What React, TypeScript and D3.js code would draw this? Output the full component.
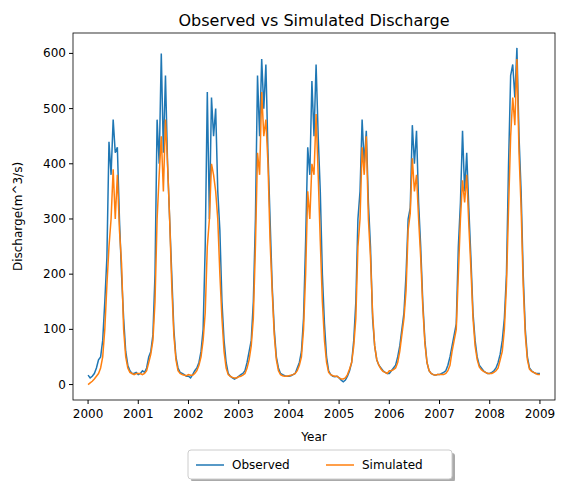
import * as d3 from "d3";

const years = [2000, 2001, 2002, 2003, 2004, 2005, 2006, 2007, 2008];
// half-month values per year
const observed: number[][] = [
  [17,12,15,20,30,45,50,80,150,230,440,380,480,420,430,300,200,120,60,35,25,20,20,22],
  [18,20,25,22,30,50,60,90,200,480,400,600,420,560,400,300,200,100,50,30,22,20,18,15],
  [15,12,18,25,30,40,60,100,250,530,300,520,450,500,350,280,150,80,40,20,15,12,10,12],
  [15,18,20,25,40,60,80,150,300,560,450,590,500,580,420,300,180,100,50,30,20,18,16,15],
  [15,16,18,20,30,40,60,120,260,430,380,550,450,580,450,350,200,110,50,25,18,15,14,15],
  [12,8,5,8,15,25,40,80,150,300,350,480,400,460,330,250,120,70,45,35,30,25,22,20],
  [20,25,30,35,50,70,100,130,200,300,320,470,400,460,330,250,150,80,40,25,20,18,17,18],
  [18,20,22,25,35,50,70,90,110,250,330,460,350,420,320,230,130,80,50,35,30,25,22,20],
  [20,22,25,30,40,55,80,120,200,400,560,580,520,610,450,350,200,100,50,30,25,22,20,20],
];
const simulated: number[][] = [
  [0,3,6,10,15,20,30,50,100,180,250,300,390,300,380,280,220,100,50,30,22,20,18,20],
  [20,20,18,20,25,40,55,80,150,300,380,450,350,480,400,300,180,90,45,25,20,18,17,16],
  [18,17,17,20,25,35,50,80,130,250,300,400,380,350,300,200,120,60,30,18,15,13,12,12],
  [14,15,17,20,30,45,70,120,250,420,380,530,450,480,400,260,170,90,45,25,18,16,15,15],
  [16,17,18,20,25,35,50,100,200,350,300,400,380,490,380,260,150,80,40,22,18,16,15,15],
  [12,10,10,12,18,28,40,70,120,250,300,430,380,450,300,230,130,70,45,35,28,24,22,20],
  [25,25,27,30,40,60,90,120,170,280,310,410,350,380,300,230,140,75,40,25,20,18,17,18],
  [18,18,18,20,25,35,60,80,100,200,300,370,330,380,290,210,120,70,45,32,27,24,22,20],
  [20,20,22,25,30,45,60,100,180,320,450,520,470,590,420,320,180,90,45,28,24,22,20,18],
];
const yTicks = [0, 100, 200, 300, 400, 500, 600];
const xTicks = [2000, 2001, 2002, 2003, 2004, 2005, 2006, 2007, 2008, 2009];

const toPoints = (series: number[][], last: number) => {
  const pts: [number, number][] = [];
  series.forEach((vals, yi) => vals.forEach((v, i) => pts.push([years[yi] + i / 24, v])));
  pts.push([2009, last]);
  return pts;
};

export default function App() {
  const left = 73, right = 555, top = 33, bottom = 400;
  const x = d3.scaleLinear().domain([1999.7, 2009.3]).range([left, right]);
  const y = d3.scaleLinear().domain([-28, 637]).range([bottom, top]);
  const line = d3.line<[number, number]>().x((d) => x(d[0])).y((d) => y(d[1]));
  const obs = toPoints(observed, 20);
  const sim = toPoints(simulated, 18);
  const font = "DejaVu Sans, sans-serif";
  return (
    <svg width={555} height={473} style={{ display: "block" }} fontFamily={font}>
      <rect width={555} height={473} fill="white" />
      <text x={(left + right) / 2} y={24} textAnchor="middle" fontSize={16} transform="translate(-8,-6)">
        Observed vs Simulated Discharge
      </text>
      <path d={line(obs) ?? ""} fill="none" stroke="#1f77b4" strokeWidth={1.5} transform="translate(-8,-8)" />
      <path d={line(sim) ?? ""} fill="none" stroke="#ff7f0e" strokeWidth={1.5} transform="translate(-8,-8)" />
      <g transform="translate(-8,-8)">
        <rect x={left} y={top} width={right - left} height={bottom - top} fill="none" stroke="black" strokeWidth={0.8} />
        {xTicks.map((t) => (
          <g key={t}>
            <line x1={x(t)} x2={x(t)} y1={bottom} y2={bottom + 4} stroke="black" />
            <text x={x(t)} y={bottom + 18} textAnchor="middle" fontSize={12}>{t}</text>
          </g>
        ))}
        {yTicks.map((t) => (
          <g key={t}>
            <line x1={left - 4} x2={left} y1={y(t)} y2={y(t)} stroke="black" />
            <text x={left - 7} y={y(t) + 4} textAnchor="end" fontSize={12}>{t}</text>
          </g>
        ))}
        <text x={(left + right) / 2} y={441} textAnchor="middle" fontSize={12}>Year</text>
        <text transform={`translate(22,${(top + bottom) / 2}) rotate(-90)`} textAnchor="middle" fontSize={12}>
          Discharge(m^3/s)
        </text>
        <rect x={191} y={453} width={264} height={29} rx={3} fill="#555" opacity={0.5} />
        <rect x={188} y={450} width={264} height={29} rx={3} fill="white" stroke="#ccc" />
        <line x1={196} x2={224} y1={465} y2={465} stroke="#1f77b4" strokeWidth={1.5} />
        <text x={232} y={469} fontSize={12}>Observed</text>
        <line x1={326} x2={354} y1={465} y2={465} stroke="#ff7f0e" strokeWidth={1.5} />
        <text x={362} y={469} fontSize={12}>Simulated</text>
      </g>
    </svg>
  );
}
